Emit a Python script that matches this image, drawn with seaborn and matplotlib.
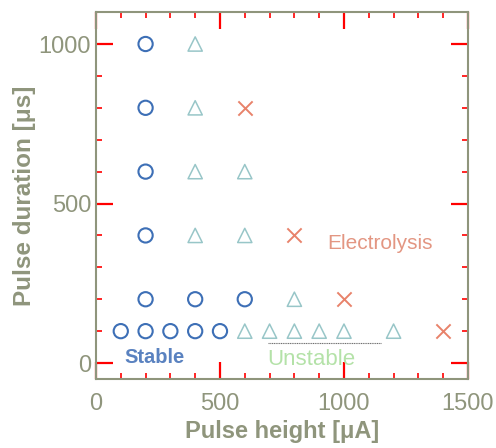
import pandas as pd
import matplotlib.pyplot as plt
import seaborn as sns
from matplotlib.ticker import MultipleLocator

# pulse height [uA], pulse duration [us]
stable_x = [200, 200, 200, 200, 200, 400, 600, 100, 200, 300, 400, 500]
stable_y = [1000, 800, 600, 400, 200, 200, 200, 100, 100, 100, 100, 100]
unstable_x = [400, 400, 400, 600, 400, 600, 800, 600, 700, 800, 900, 1000, 1200]
unstable_y = [1000, 800, 600, 600, 400, 400, 200, 100, 100, 100, 100, 100, 100]
electro_x = [600, 800, 1000, 1400]
electro_y = [800, 400, 200, 100]

unstable_bar_x = [694, 1150]
unstable_bar_y = [62, 62]

sns.set_theme(style="white")
plt.rcParams['font.family'] = ['Liberation Sans', 'DejaVu Sans']
axis_col = '#8f957c'
tick_col = 'red'

fig = plt.figure(figsize=(4.96, 4.48), dpi=100)
ax = fig.add_axes([0.1935, 0.154, 0.75, 0.819])

groups = [
    (stable_x, stable_y, 'o', '#3d6fb6', True, 1.5),
    (unstable_x, unstable_y, '^', '#98c6c8', True, 1.1),
    (electro_x, electro_y, 'x', '#e8826a', False, 1.4),
]
for xs, ys, mk, col, hollow, lw in groups:
    df = pd.DataFrame({'x': xs, 'y': ys})
    n0 = len(ax.collections)
    sns.scatterplot(data=df, x='x', y='y', marker=mk, s=105, color=col,
                    linewidth=lw, ax=ax, zorder=3)
    coll = ax.collections[n0]
    if hollow:
        coll.set_facecolor('none')
    coll.set_edgecolor(col)

ax.plot(unstable_bar_x, unstable_bar_y, color='#707070', lw=0.8, ls=(0, (1, 0.6)))
ax.text(235, 18, 'Stable', color='#5a82c0', fontsize=14.5, fontweight='bold',
        ha='center', va='center')
ax.text(867, 12, 'Unstable', color='#b4e2a8', fontsize=16,
        ha='center', va='center')
ax.text(1145, 376, 'Electrolysis', color='#e39682', fontsize=15,
        ha='center', va='center')

ax.set_xlim(0, 1500)
ax.set_ylim(-50, 1100)
ax.xaxis.set_major_locator(MultipleLocator(500))
ax.xaxis.set_minor_locator(MultipleLocator(100))
ax.yaxis.set_major_locator(MultipleLocator(500))
ax.yaxis.set_minor_locator(MultipleLocator(100))
ax.xaxis.set_ticks_position('both')
ax.yaxis.set_ticks_position('both')
ax.tick_params(which='both', direction='in', colors=tick_col,
               labelsize=17, labelcolor=axis_col)
ax.tick_params(which='major', length=12, width=1.6)
ax.tick_params(which='minor', length=4, width=1.2)
ax.tick_params(axis='x', which='major', pad=10)
for sp in ax.spines.values():
    sp.set_color(axis_col)
    sp.set_linewidth(1.5)

ax.set_xlabel('Pulse height [μA]', fontsize=17, fontweight='bold', color=axis_col)
ax.set_ylabel('Pulse duration [μs]', fontsize=17.5, fontweight='bold', color=axis_col,
              labelpad=2)

fig.savefig('out.png', dpi=100)
